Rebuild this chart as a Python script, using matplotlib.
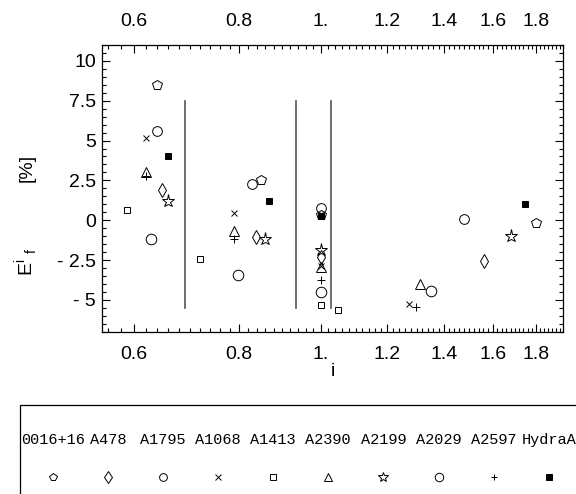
import numpy as np
import matplotlib
matplotlib.use("Agg")
import matplotlib.pyplot as plt
from matplotlib.ticker import FixedLocator, FixedFormatter, NullFormatter
from matplotlib.patches import Rectangle

plt.rcParams['font.family'] = ['Liberation Sans', 'DejaVu Sans']
plt.rcParams['mathtext.fontset'] = 'custom'
plt.rcParams['mathtext.rm'] = 'Liberation Sans'

# cluster names and their E_f^i values at each i
clusters = ['0016+16', 'A478', 'A1795', 'A1068', 'A1413',
            'A2390', 'A2199', 'A2029', 'A2597', 'HydraA']

i_0016 = [0.640, 0.849, 1.0, 1.800]
e_0016 = [8.5, 2.5, 0.35, -0.15]
i_A478 = [0.649, 0.838, 1.0, 1.562]
e_A478 = [1.92, -1.08, -2.3, -2.58]
i_A1795 = [0.640, 0.828, 1.0, 1.480]
e_A1795 = [5.58, 2.25, 0.75, 0.06]
i_A1068 = [0.6205, 0.789, 1.0, 1.272]
e_A1068 = [5.17, 0.48, -2.85, -5.29]
i_A1413 = [0.590, 0.719, 1.0, 1.049]
e_A1413 = [0.63, -2.42, -5.35, -5.63]
i_A2390 = [0.6205, 0.789, 1.0, 1.310]
e_A2390 = [3.0, -0.7, -2.95, -4.0]
i_A2199 = [0.659, 0.8595, 1.0, 1.682]
e_A2199 = [1.21, -1.21, -1.9, -0.98]
i_A2029 = [0.630, 0.7986, 1.0, 1.350]
e_A2029 = [-1.15, -3.46, -4.5, -4.44]
i_A2597 = [0.6205, 0.789, 1.0, 1.299]
e_A2597 = [2.8, -1.19, -3.75, -5.42]
i_HydraA = [0.660, 0.869, 1.0, 1.749]
e_HydraA = [4.0, 1.21, 0.27, 1.0]

series_i = [i_0016, i_A478, i_A1795, i_A1068, i_A1413,
            i_A2390, i_A2199, i_A2029, i_A2597, i_HydraA]
series_e = [e_0016, e_A478, e_A1795, e_A1068, e_A1413,
            e_A2390, e_A2199, e_A2029, e_A2597, e_HydraA]

# separator lines between the i groups
divider_i = [0.691, 0.936, 1.029]
divider_lo, divider_hi = -5.5, 7.5

x_major = [0.6, 0.8, 1.0, 1.2, 1.4, 1.6, 1.8]
x_major_labels = ['0.6', '0.8', '1.', '1.2', '1.4', '1.6', '1.8']
y_major = [-5, -2.5, 0, 2.5, 5, 7.5, 10]
y_major_labels = ['- 5', '- 2.5', '0', '2.5', '5', '7.5', '10']

# marker styles: (marker, size, filled)
styles = [('p', 7, False), ('d', 7.5, False), ('o', 7, False),
          ('x', 4.8, False), ('s', 4.8, False), ('^', 7.5, False),
          ('*', 9.5, False), ('o', 7.6, False), ('+', 5.5, False),
          ('s', 4.8, True)]

W, H = 576, 494
fig = plt.figure(figsize=(W / 100, H / 100), dpi=100)
left, right, top, bottom = 101.7, 563.3, 45.0, 331.7
ax = fig.add_axes([left / W, 1 - bottom / H, (right - left) / W, (bottom - top) / H])

ax.set_xscale('log')
ax.set_xlim(0.55, 1.94)
ax.set_ylim(-7, 11)

for xs, ys, (m, s, filled) in zip(series_i, series_e, styles):
    ax.plot(xs, ys, linestyle='none', marker=m, markersize=s,
            markerfacecolor='black' if filled else 'none',
            markeredgecolor='black', markeredgewidth=0.7, clip_on=False)

for xv in divider_i:
    ax.plot([xv, xv], [divider_lo, divider_hi], color='#555555', lw=1.2)

ax.xaxis.set_major_locator(FixedLocator(x_major))
ax.xaxis.set_major_formatter(FixedFormatter(x_major_labels))
x_minor = [round(v, 2) for v in np.arange(0.56, 1.95, 0.02)
           if not any(abs(v - M) < 1e-6 for M in x_major)]
ax.xaxis.set_minor_locator(FixedLocator(x_minor))
ax.xaxis.set_minor_formatter(NullFormatter())

ax.yaxis.set_major_locator(FixedLocator(y_major))
ax.yaxis.set_major_formatter(FixedFormatter(y_major_labels))
y_minor = [v for v in np.arange(-7, 11.01, 0.5) if v not in y_major]
ax.yaxis.set_minor_locator(FixedLocator(y_minor))

for sp in ax.spines.values():
    sp.set_linewidth(0.9)

ax.tick_params(axis='both', which='both', direction='in',
               top=True, right=True, width=0.8, labelsize=14)
ax.tick_params(axis='x', which='both', labeltop=True, pad=10.5)
ax.tick_params(axis='y', which='both', pad=4)
ax.tick_params(which='major', length=6)
ax.tick_params(which='minor', length=3)

ax.set_xlabel('i', fontsize=14, labelpad=0)

# vertical axis title, drawn in two pieces with a wide gap between them
fig.text(26 / W, 1 - 262 / H, r'E$^{\rm i}$ $_{\rm f}$', rotation=90,
         ha='center', va='center', fontsize=14)
fig.text(27 / W, 1 - 168 / H, '[%]', rotation=90,
         ha='center', va='center', fontsize=14)

# key box under the plot
lax = fig.add_axes([0, 0, 1, 1])
lax.set_xlim(0, W)
lax.set_ylim(H, 0)
lax.axis('off')
lax.add_patch(Rectangle((20.3, 404.8), 700, 200, fill=False,
                        edgecolor='black', lw=0.9))
key_x0, key_dx = 52.8, 55.1
for k, (name, (m, s, filled)) in enumerate(zip(clusters, styles)):
    kx = key_x0 + key_dx * k
    lax.text(kx, 440, name, ha='center', va='center',
             family='Liberation Mono', fontsize=11)
    lax.plot([kx], [477], linestyle='none', marker=m, markersize=s * 0.8,
             markerfacecolor='black' if filled else 'none',
             markeredgecolor='black', markeredgewidth=0.7)

fig.savefig('out.png', dpi=100)
